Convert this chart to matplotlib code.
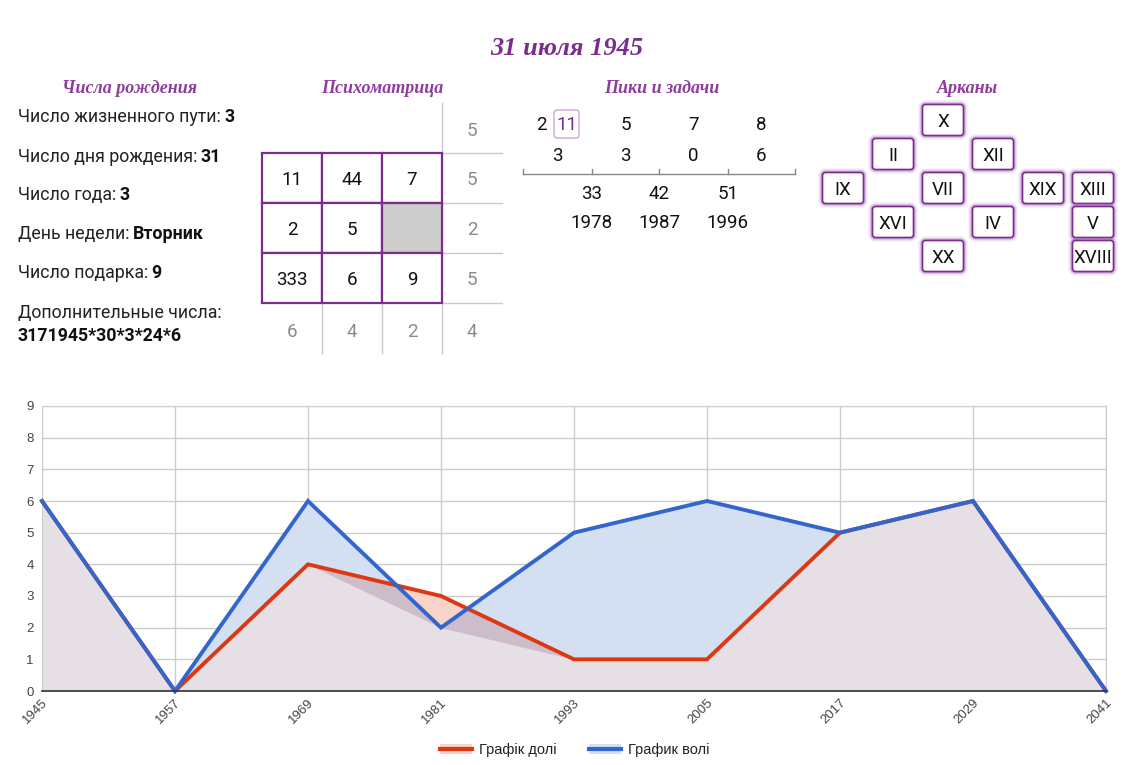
import numpy as np
import matplotlib.pyplot as plt
from matplotlib.patches import Rectangle, FancyBboxPatch, Polygon, Patch
from matplotlib.lines import Line2D
from matplotlib.legend_handler import HandlerTuple

plt.rcParams['font.family'] = ['Roboto', 'DejaVu Sans']

W, H = 1135, 765

# ---- data ----
title = '31 июля 1945'
headings = ['Числа рождения', 'Психоматрица', 'Пики и задачи', 'Арканы']

birth_labels = ['Число жизненного пути:', 'Число дня рождения:', 'Число года:',
                'День недели:', 'Число подарка:']
birth_values = ['3', '31', '3', 'Вторник', '9']
extra_label = 'Дополнительные числа:'
extra_value = '3171945*30*3*24*6'

matrix = [['11', '44', '7'],
          ['2', '5', ''],
          ['333', '6', '9']]
top_sum = '5'
row_sums = ['5', '2', '5']
col_sums = ['6', '4', '2']
diag_sum = '4'

peak_first = '2'
peak_master = '11'
peaks = ['5', '7', '8']
tasks = ['3', '3', '0', '6']
peak_ages = ['33', '42', '51']
peak_years = ['1978', '1987', '1996']

arcana = ['X', 'II', 'XII', 'IX', 'VII', 'XIX', 'XIII', 'XVI', 'IV', 'V', 'XX', 'XVIII']
arcana_cols = [2, 1, 3, 0, 2, 4, 5, 1, 3, 5, 2, 5]
arcana_rows = [0, 1, 1, 2, 2, 2, 2, 3, 3, 3, 4, 4]

years = [1945, 1957, 1969, 1981, 1993, 2005, 2017, 2029, 2041]
fate = [6, 0, 4, 3, 1, 1, 5, 6, 0]
will = [6, 0, 6, 2, 5, 6, 5, 6, 0]
fate_label = 'Графік долі'
will_label = 'График волі'

purple = '#7b2d8e'
head_purple = '#8e3c9e'
grey_txt = '#8a8a8a'
grey_line = '#c8c8c8'
num_fs = 13.5

fig = plt.figure(figsize=(W / 100, H / 100), dpi=100, facecolor='white')

# overlay in pixel coordinates for the top block
ov = fig.add_axes([0, 0, 1, 1], zorder=0)
ov.set_xlim(0, W)
ov.set_ylim(H, 0)
ov.axis('off')

script = dict(family='Liberation Serif', style='italic', weight='bold')
ov.text(567, 48, title, ha='center', va='center', fontsize=19, color=purple, **script)
for hx, h in zip([130, 382, 662, 968], headings):
    ov.text(hx, 88, h, ha='center', va='center', fontsize=13, color=head_purple, **script)

# birth numbers
fs = 12.8
for yy, lab, val in zip([117, 157, 195, 234, 273], birth_labels, birth_values):
    t = ov.text(18, yy, lab, ha='left', va='center', fontsize=fs, color='#222')
    ov.annotate(val, xy=(1, 0), xycoords=t, xytext=(2.5, 0), textcoords='offset points',
                ha='left', va='bottom', fontsize=fs, weight='bold', color='#111')
ov.text(18, 313, extra_label, ha='left', va='center', fontsize=fs, color='#222')
ov.text(18, 336, extra_value, ha='left', va='center', fontsize=fs, weight='bold', color='#111')

# psychomatrix
x0, y0, cw, ch = 262, 153, 60, 50
ov.plot([442, 442], [103, 353], color=grey_line, lw=1)
for cx in [322, 382]:
    ov.plot([cx, cx], [303, 353], color=grey_line, lw=1)
for hy in [153, 203, 253, 303]:
    ov.plot([442, 502], [hy, hy], color=grey_line, lw=1)
for r in range(3):
    for c in range(3):
        v = matrix[r][c]
        ov.add_patch(Rectangle((x0 + c * cw, y0 + r * ch), cw, ch,
                               facecolor='#cccccc' if v == '' else 'white',
                               edgecolor=purple, lw=1.6, zorder=3))
        ov.text(x0 + c * cw + cw / 2, y0 + r * ch + ch / 2 + 2, v, ha='center', va='center',
                fontsize=num_fs, color='#111', zorder=4)
ov.text(472, 131, top_sum, ha='center', va='center', fontsize=num_fs, color=grey_txt)
for r, v in enumerate(row_sums):
    ov.text(472, y0 + r * ch + ch / 2 + 2, v, ha='center', va='center', fontsize=num_fs, color=grey_txt)
for c, v in enumerate(col_sums):
    ov.text(x0 + c * cw + cw / 2, 332, v, ha='center', va='center', fontsize=num_fs, color=grey_txt)
ov.text(472, 332, diag_sum, ha='center', va='center', fontsize=num_fs, color=grey_txt)

# peaks and tasks
ticks = [523, 592, 659, 728, 795]
mids = [(a + b) / 2 for a, b in zip(ticks[:-1], ticks[1:])]
ov.plot([ticks[0], ticks[-1]], [174, 174], color='#888', lw=1)
for tx in ticks:
    ov.plot([tx, tx], [169, 174], color='#888', lw=1)
ov.text(541, 125, peak_first, ha='center', va='center', fontsize=num_fs, color='#111')
ov.add_patch(FancyBboxPatch((554, 110), 25, 28, boxstyle='round,pad=0,rounding_size=3',
                            facecolor='white', edgecolor='#c9a6d6', lw=1))
ov.text(566.5, 125, peak_master, ha='center', va='center', fontsize=num_fs, color=purple)
for mx, v in zip(mids[1:], peaks):
    ov.text(mx, 125, v, ha='center', va='center', fontsize=num_fs, color='#111')
for mx, v in zip(mids, tasks):
    ov.text(mx, 156, v, ha='center', va='center', fontsize=num_fs, color='#111')
for tx, a, y in zip(ticks[1:4], peak_ages, peak_years):
    ov.text(tx, 194, a, ha='center', va='center', fontsize=num_fs, color='#111')
    ov.text(tx, 223, y, ha='center', va='center', fontsize=num_fs, color='#111')

# arcana
bw, bh = 41, 31
for lab, c, r in zip(arcana, arcana_cols, arcana_rows):
    cx, cy = 843 + 50 * c, 120 + 34 * r
    for lw_, a in [(6, 0.12), (4, 0.2), (2.5, 0.35)]:
        ov.add_patch(FancyBboxPatch((cx - bw / 2, cy - bh / 2), bw, bh,
                                    boxstyle='round,pad=0,rounding_size=3',
                                    facecolor='none', edgecolor='#a35bbd', lw=lw_, alpha=a))
    ov.add_patch(FancyBboxPatch((cx - bw / 2, cy - bh / 2), bw, bh,
                                boxstyle='round,pad=0,rounding_size=3',
                                facecolor='white', edgecolor=purple, lw=1.2))
    ov.text(cx, cy + 1.5, lab, ha='center', va='center', fontsize=num_fs, color='#111')

# ---- chart ----
ax = fig.add_axes([42 / W, 1 - 691 / H, (1106 - 42) / W, (691 - 406) / H], zorder=1)
ax.set_facecolor('white')
x = np.array(years)
f = np.array(fate)
w = np.array(will)

ax.fill_between(x, 0, w, color='#d4dff2', lw=0, zorder=1)
ax.fill_between(x, 0, f, color='#f8d3ca', lw=0, zorder=1)
dark = ax.fill_between(x, 0, w, color='#cdbdcb', lw=0, zorder=1.1)
clip = Polygon(np.column_stack([np.r_[x, x[::-1]], np.r_[f, np.zeros_like(f)]]),
               closed=True, transform=ax.transData)
dark.set_clip_path(clip)
ax.fill_between(x, 0, np.minimum(f, w), color='#e6dfe6', lw=0, zorder=1.2)

ax.plot(x, f, color='#dc3912', lw=2.8, zorder=3, clip_on=False, solid_joinstyle='miter')
ax.plot(x, w, color='#3366cc', lw=2.8, zorder=4, clip_on=False, solid_joinstyle='miter')

ax.set_xlim(years[0], years[-1])
ax.set_ylim(0, 9)
ax.set_xticks(years)
ax.set_yticks(range(10))
ax.grid(True, color='#cccccc', lw=1, zorder=0)
ax.set_axisbelow(True)
for s in ['top', 'right', 'left']:
    ax.spines[s].set_color('#cccccc')
ax.spines['bottom'].set_color('#333333')
ax.spines['bottom'].set_linewidth(1.2)
ax.spines['bottom'].set_zorder(5)
ax.tick_params(axis='y', length=0, labelsize=9.5, colors='#444444', pad=6)
ax.tick_params(axis='x', length=0, labelsize=9.5, colors='#444444', pad=4)
for lbl in ax.get_xticklabels() + ax.get_yticklabels():
    lbl.set_family('Liberation Sans')
plt.setp(ax.get_xticklabels(), rotation=45, ha='right', rotation_mode='anchor')

h1 = (Patch(facecolor='#f8d3ca', lw=0), Line2D([], [], color='#dc3912', lw=3))
h2 = (Patch(facecolor='#d4dff2', lw=0), Line2D([], [], color='#3366cc', lw=3))
fig.legend([h1, h2], [fate_label, will_label],
           handler_map={tuple: HandlerTuple(ndivide=1, pad=0)},
           loc='center', bbox_to_anchor=(575 / W, 1 - 750 / H), ncol=2, frameon=False,
           prop={'family': 'Liberation Sans', 'size': 10.5}, handlelength=2.2,
           columnspacing=2.2, handletextpad=0.5, labelcolor='#222222')

fig.savefig('out.png', dpi=100, facecolor=fig.get_facecolor())
